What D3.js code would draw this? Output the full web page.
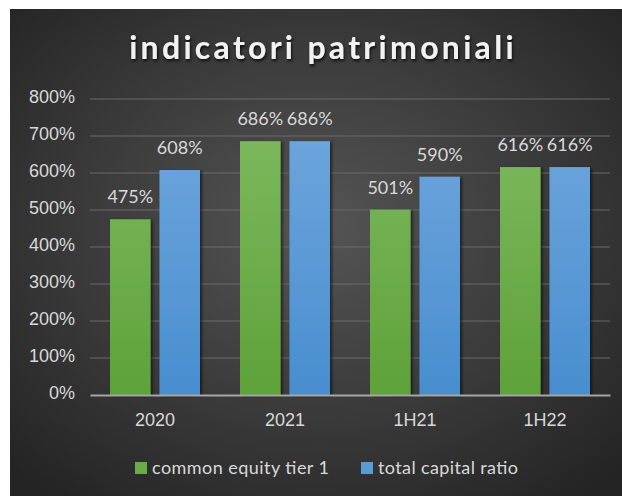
<!DOCTYPE html>
<html lang="it">
<head>
<meta charset="UTF-8">
<title>indicatori patrimoniali</title>
<script src="https://d3js.org/d3.v7.min.js"></script>
<style>
  html, body { margin: 0; padding: 0; background: #fff; }
  svg { display: block; font-family: Lato, "Open Sans", sans-serif; }
  .tick text { fill: #d9d9d9; font-size: 18px; }
</style>
</head>
<body>
<svg width="622" height="496"></svg>
<script>
// dati
const categories = ["2020", "2021", "1H21", "1H22"];
const seriesNames = ["common equity tier 1", "total capital ratio"];
const cet1 = [475, 686, 501, 616];
const tcr = [608, 686, 590, 616];
const yTicks = [0, 100, 200, 300, 400, 500, 600, 700, 800];

const width = 622, height = 496;
const margin = { top: 99, right: 12, bottom: 101, left: 90 };

const svg = d3.select("svg");
const defs = svg.append("defs");

// sfondo con gradiente radiale
const bg = defs.append("radialGradient").attr("id", "bg")
  .attr("cx", "50%").attr("cy", "45%").attr("r", "70%");
bg.append("stop").attr("offset", "0%").attr("stop-color", "#555555");
bg.append("stop").attr("offset", "100%").attr("stop-color", "#242424");

function barGrad(id, top, bottom) {
  const g = defs.append("linearGradient").attr("id", id)
    .attr("x1", 0).attr("x2", 0)
    .attr("gradientUnits", "userSpaceOnUse")
    .attr("y1", margin.top).attr("y2", height - margin.bottom);
  g.append("stop").attr("offset", "0%").attr("stop-color", top);
  g.append("stop").attr("offset", "100%").attr("stop-color", bottom);
}
barGrad("gGreen", "#80bb62", "#5ea239");
barGrad("gBlue", "#72a8de", "#488ecf");

const shadow = defs.append("filter").attr("id", "shadow")
  .attr("x", "-20%").attr("y", "-20%").attr("width", "150%").attr("height", "150%");
shadow.append("feDropShadow").attr("dx", 2).attr("dy", 1).attr("stdDeviation", 1.5)
  .attr("flood-color", "#000").attr("flood-opacity", 0.55);

const tShadow = defs.append("filter").attr("id", "tshadow")
  .attr("x", "-10%").attr("y", "-30%").attr("width", "120%").attr("height", "170%");
tShadow.append("feDropShadow").attr("dx", 1).attr("dy", 2).attr("stdDeviation", 1.5)
  .attr("flood-color", "#000").attr("flood-opacity", 0.8);

svg.append("rect").attr("x", 10).attr("y", 9)
  .attr("width", width - 10).attr("height", height - 9)
  .attr("fill", "url(#bg)");

// titolo
svg.append("text")
  .attr("x", 323).attr("y", 59)
  .attr("text-anchor", "middle")
  .attr("fill", "#f2f2f2")
  .attr("font-size", 32).attr("font-weight", "bold")
  .attr("letter-spacing", 3.3)
  .attr("filter", "url(#tshadow)")
  .text("indicatori patrimoniali");

// scale
const x0 = d3.scaleBand()
  .domain(categories)
  .range([margin.left, width - margin.right])
  .paddingInner(0).paddingOuter(0);

const x1 = d3.scaleBand()
  .domain(seriesNames)
  .range([20, x0.bandwidth() - 20])
  .paddingInner(0.18);

const y = d3.scaleLinear()
  .domain([0, 800])
  .range([height - margin.bottom, margin.top]);

const color = { "common equity tier 1": "url(#gGreen)", "total capital ratio": "url(#gBlue)" };
const legendColor = { "common equity tier 1": "#6aac47", "total capital ratio": "#5b9bd5" };

// griglia
svg.append("g")
  .selectAll("line")
  .data(yTicks.filter(d => d > 0))
  .enter().append("line")
  .attr("x1", margin.left).attr("x2", width - margin.right)
  .attr("y1", d => y(d)).attr("y2", d => y(d))
  .attr("stroke", "#6a6a6a").attr("stroke-width", 1);

// asse Y
const yAxis = svg.append("g")
  .attr("transform", `translate(${margin.left - 15},0)`)
  .call(d3.axisLeft(y).tickValues(yTicks).tickSize(0).tickPadding(0).tickFormat(d => d + "%"));
yAxis.select(".domain").remove();
yAxis.selectAll("text").attr("dy", "0.22em");

// barre
const rows = categories.map((c, i) => ({ cat: c, values: [
  { name: seriesNames[0], value: cet1[i] },
  { name: seriesNames[1], value: tcr[i] }
]}));

const groups = svg.append("g").selectAll("g")
  .data(rows).enter().append("g")
  .attr("transform", d => `translate(${x0(d.cat)},0)`);

groups.selectAll("rect")
  .data(d => d.values).enter().append("rect")
  .attr("x", d => x1(d.name))
  .attr("y", d => y(d.value))
  .attr("width", x1.bandwidth())
  .attr("height", d => y(0) - y(d.value))
  .attr("fill", d => color[d.name])
  .attr("filter", "url(#shadow)");

groups.selectAll("text")
  .data(d => d.values).enter().append("text")
  .attr("x", d => x1(d.name) + x1.bandwidth() / 2)
  .attr("y", d => y(d.value) - 16)
  .attr("text-anchor", "middle")
  .attr("fill", "#d9d9d9")
  .attr("font-size", 18)
  .text(d => d.value + "%");

// asse X
const xAxis = svg.append("g")
  .attr("transform", `translate(0,${y(0)})`)
  .call(d3.axisBottom(x0).tickSize(0).tickPadding(18));
xAxis.select(".domain").attr("stroke", "#a6a6a6").attr("stroke-width", 2);

// legenda
const legendItems = [
  { name: seriesNames[0], x: 135, w: 177 },
  { name: seriesNames[1], x: 361, w: 140 }
];
const legend = svg.append("g");
legend.selectAll("rect")
  .data(legendItems).enter().append("rect")
  .attr("x", d => d.x).attr("y", 462)
  .attr("width", 12).attr("height", 12)
  .attr("fill", d => legendColor[d.name]);
legend.selectAll("text")
  .data(legendItems).enter().append("text")
  .attr("x", d => d.x + 17).attr("y", 474)
  .attr("fill", "#d9d9d9").attr("font-size", 18)
  .attr("textLength", d => d.w).attr("lengthAdjust", "spacing")
  .text(d => d.name);
</script>
</body>
</html>
